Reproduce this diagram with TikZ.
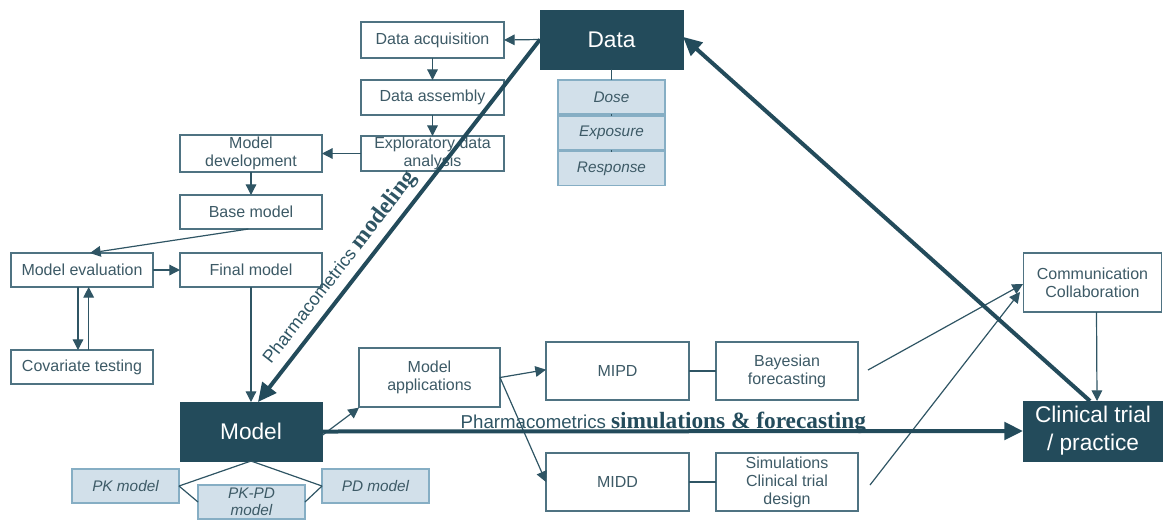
\documentclass[tikz,border=0pt]{standalone}
\usepackage{fontspec}
\setmainfont{Liberation Sans}
\newfontfamily\serifb{Liberation Serif}
\usetikzlibrary{arrows.meta}
\definecolor{dk}{HTML}{234B5B}
\definecolor{tx}{HTML}{3D5A66}
\definecolor{bd}{HTML}{4F7382}
\definecolor{lf}{HTML}{D2E0EA}
\definecolor{lb}{HTML}{86AEC4}
\definecolor{ln}{HTML}{2F5564}
\tikzset{
  bx/.style={draw=bd, line width=0.9pt, fill=white, text=tx, inner sep=0pt, outer sep=0pt, align=center,
    font=\fontsize{12}{13.5}\selectfont},
  dkbx/.style={draw=dk, fill=dk, text=white, inner sep=0pt, outer sep=0pt, align=center,
    font=\fontsize{17}{21}\selectfont},
  ltbx/.style={draw=lb, line width=0.9pt, fill=lf, text=tx, inner sep=0pt, outer sep=0pt, align=center,
    font=\fontsize{11.5}{13}\selectfont\itshape},
  thin/.style={draw=ln, line width=0.9pt},
  tarr/.style={thin, -{Triangle[length=8pt,width=8pt]}},
  thick/.style={draw=dk, line width=3pt, -{Triangle[length=14pt,width=13pt]}},
}
\begin{document}
\begin{tikzpicture}[x=0.75pt,y=-0.75pt]
\useasboundingbox (0,0) rectangle (1163,519);
% nodes
\node[dkbx, minimum width=107.25pt, minimum height=44.25pt] (data) at (611.5,39.5) {Data};
\node[ltbx, minimum width=80.25pt, minimum height=25.5pt] (dose) at (611.5,97) {Dose};
\node[ltbx, minimum width=80.25pt, minimum height=25.5pt] (expo) at (611.5,133) {Exposure};
\node[ltbx, minimum width=80.25pt, minimum height=25.5pt] (resp) at (611.5,168.5) {Response};
\node[bx, minimum width=107.25pt, minimum height=27pt] (dacq) at (432.5,40) {Data acquisition};
\node[bx, minimum width=107.25pt, minimum height=26.25pt] (dasm) at (432.5,97.5) {Data assembly};
\node[bx, minimum width=107.25pt, minimum height=26.25pt] (eda) at (432.5,153.5) {Exploratory data\\analysis};
\node[bx, minimum width=106.5pt, minimum height=27.75pt] (mdev) at (251,153.5) {Model\\development};
\node[bx, minimum width=106.5pt, minimum height=25.5pt] (base) at (251,212) {Base model};
\node[bx, minimum width=106.5pt, minimum height=25.5pt] (meval) at (82,270) {Model evaluation};
\node[bx, minimum width=106.5pt, minimum height=25.5pt] (final) at (251,270) {Final model};
\node[bx, minimum width=106.5pt, minimum height=25.5pt] (cov) at (82,367) {Covariate testing};
\node[dkbx, minimum width=106.5pt, minimum height=44.25pt] (model) at (251,431.5) {Model};
\node[ltbx, minimum width=80.25pt, minimum height=25.5pt] (pk) at (125.5,486) {PK model};
\node[ltbx, minimum width=80.25pt, minimum height=25.5pt] (pkpd) at (251.5,502) {PK-PD\\model};
\node[ltbx, minimum width=80.25pt, minimum height=25.5pt] (pd) at (375.5,486) {PD model};
\node[bx, minimum width=105.75pt, minimum height=44.25pt] (mapp) at (429.5,377.5) {Model\\applications};
\node[bx, minimum width=107.25pt, minimum height=43.5pt] (mipd) at (617.5,371) {MIPD};
\node[bx, minimum width=106.5pt, minimum height=43.5pt] (bayes) at (787,371) {Bayesian\\forecasting};
\node[bx, minimum width=107.25pt, minimum height=43.5pt] (midd) at (617.5,482) {MIDD};
\node[bx, minimum width=106.5pt, minimum height=43.5pt] (sims) at (787,482) {Simulations\\Clinical trial\\design};
\node[bx, minimum width=104pt, minimum height=44.25pt] (comm) at (1092.5,282.5) {Communication\\Collaboration};
\node[dkbx, minimum width=105pt, minimum height=45pt] (clin) at (1093,431) {Clinical trial\\/ practice};
% coordinates
\coordinate (modtop) at (258,402);
\coordinate (clintop) at (1090,401);
\coordinate (bstart) at (868,370);
\coordinate (sstart) at (870,485);
\coordinate (cend1) at (1023,284);
\coordinate (cend2) at (1020,292);
% data side connectors
\draw[thin] (data.south) -- (dose.north);
\draw[thin] (dose.south) -- (expo.north);
\draw[thin] (expo.south) -- (resp.north);
\draw[tarr] (data.west) -- (dacq.east);
\draw[tarr] (dacq.south) -- (dasm.north);
\draw[tarr] (dasm.south) -- (eda.north);
\draw[tarr] (eda.west) -- (mdev.east);
\draw[tarr] (mdev.south) -- (base.north);
\draw[tarr] ([xshift=-2pt]base.south) -- ([xshift=6pt]meval.north);
\draw[tarr] (meval.east) -- (final.west);
\draw[tarr] ([xshift=-3pt]meval.south) -- ([xshift=-3pt]cov.north);
\draw[tarr] ([xshift=5pt]cov.north) -- ([xshift=5pt]meval.south);
\draw[tarr] (final.south) -- (model.north);
% model sub-boxes
\draw[thin] (model.south) -- (pk.east);
\draw[thin] (model.south) -- (pd.west);
\draw[thin] (pk.east) -- (pkpd.west);
\draw[thin] (pd.west) -- (pkpd.east);
% applications
\draw[tarr] ([yshift=-3pt]model.east) -- ([yshift=-0.5pt]mapp.south west);
\draw[tarr] (mapp.east) -- ([yshift=1pt]mipd.west);
\draw[tarr] (mapp.east) -- (midd.west);
\draw[thin] (mipd.east) -- (bayes.west);
\draw[thin] (midd.east) -- (sims.west);
\draw[tarr] (bstart) -- (cend1);
\draw[tarr] (sstart) -- (cend2);
\draw[tarr] ([xshift=3pt]comm.south) -- ([xshift=3pt]clin.north);
% thick arrows
\draw[thick] (data.west) -- node[sloped, above, pos=0.66, inner sep=4pt, text=ln]
  {\fontsize{13.5}{14}\selectfont Pharmacometrics \serifb\bfseries\fontsize{17.5}{18}\selectfont modeling} (modtop);
\draw[thick] (model.east) -- node[above, pos=0.487, inner sep=0pt, yshift=-3pt, text=ln]
  {\fontsize{14}{15}\selectfont Pharmacometrics \serifb\bfseries\fontsize{17.5}{18}\selectfont\color{dk}simulations \& forecasting} (clin.west);
\draw[thick] (clintop) -- ([yshift=2pt]data.east);
\end{tikzpicture}
\end{document}
